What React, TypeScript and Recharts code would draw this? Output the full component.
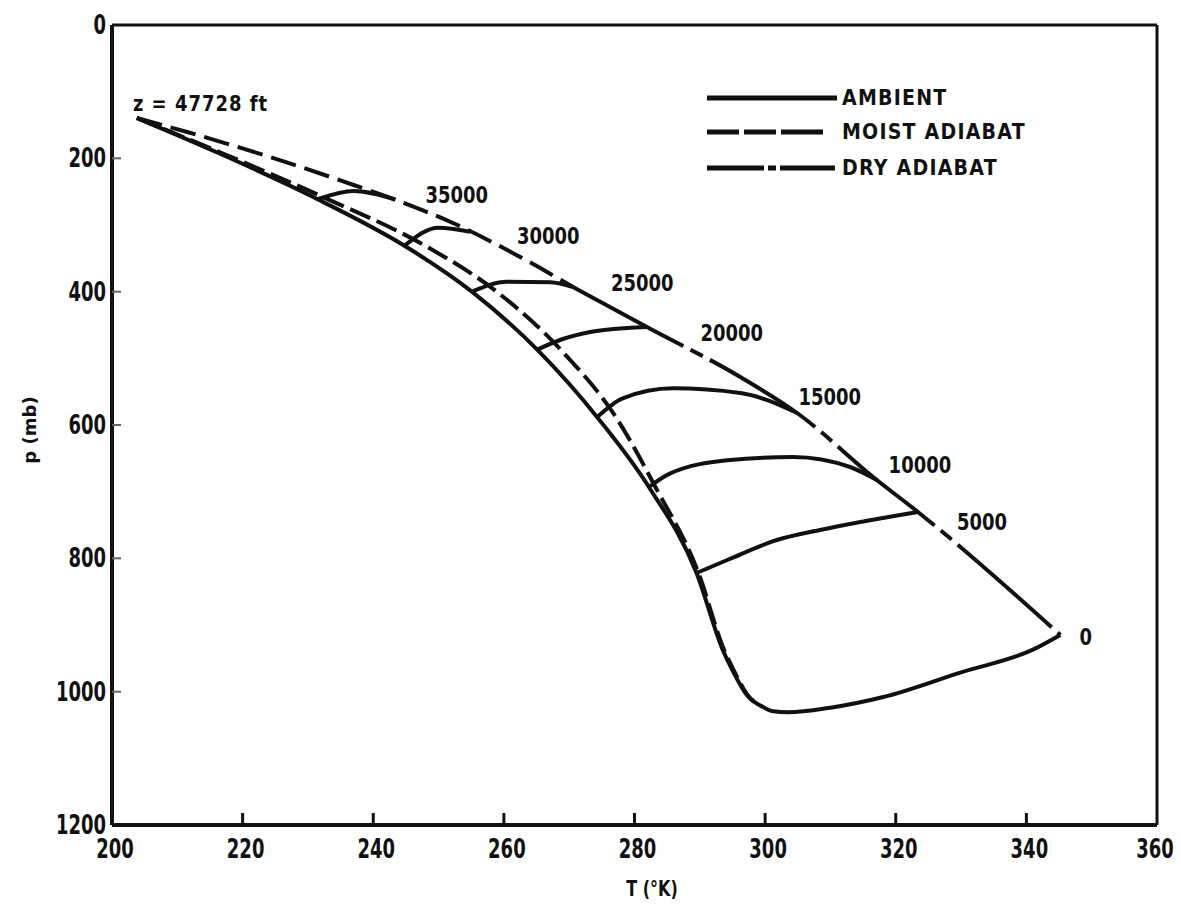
import { ComposedChart, Line, Scatter, XAxis, YAxis, ReferenceLine, Legend } from 'recharts'

// axis ticks
const T_TICKS = [200, 220, 240, 260, 280, 300, 320, 340, 360]
const P_TICKS = [0, 200, 400, 600, 800, 1000, 1200]

// profiles, T in K, p in mb
const ambient = [
  { T: 203.8, p: 139.5 }, { T: 216.3, p: 192 }, { T: 230.8, p: 258 }, { T: 245.1, p: 333 },
  { T: 255.1, p: 400 }, { T: 265.1, p: 487 }, { T: 274.6, p: 592 }, { T: 282.2, p: 693 },
  { T: 289.5, p: 822 }, { T: 293.5, p: 937 }, { T: 295.0, p: 968 }, { T: 297.2, p: 1005 },
  { T: 299.7, p: 1023 },
]
const moistAdiabat = [
  { T: 203.8, p: 139.5 }, { T: 216.8, p: 192 }, { T: 232.3, p: 258 }, { T: 248.3, p: 333 },
  { T: 258.9, p: 400 }, { T: 268.7, p: 487 }, { T: 277.4, p: 592 }, { T: 283.2, p: 693 },
  { T: 289.8, p: 822 }, { T: 293.7, p: 937 }, { T: 295.2, p: 968 }, { T: 297.3, p: 1005 },
  { T: 299.7, p: 1023 },
]
const dryAdiabatUpper = [
  { T: 203.8, p: 139.5 }, { T: 211.5, p: 160.5 }, { T: 224.2, p: 198 }, { T: 237.0, p: 240 },
  { T: 243.6, p: 263 }, { T: 252.2, p: 297 }, { T: 262.5, p: 348 }, { T: 270.6, p: 393 },
]
const dryAdiabatLower = [
  { T: 270.6, p: 393 }, { T: 281.9, p: 453 }, { T: 296.2, p: 528 }, { T: 304.9, p: 582 },
  { T: 317.1, p: 682.5 }, { T: 323.4, p: 730.5 }, { T: 345.2, p: 915 },
]

// constant-altitude lines from the ambient curve to the dry adiabat
const z35000 = [{ T: 231.6, p: 261 }, { T: 237.0, p: 249 }, { T: 243.4, p: 262 }]
const z30000 = [{ T: 244.8, p: 331 }, { T: 250.0, p: 304 }, { T: 254.8, p: 310 }]
const z25000 = [{ T: 255.1, p: 400 }, { T: 260.5, p: 385 }, { T: 267.1, p: 386 }, { T: 270.6, p: 393 }]
const z20000 = [{ T: 265.1, p: 487 }, { T: 268.6, p: 472.5 }, { T: 273.2, p: 460.5 }, { T: 278.9, p: 454.5 }, { T: 281.9, p: 453 }]
const z15000 = [{ T: 274.3, p: 588 }, { T: 278.2, p: 560 }, { T: 285.9, p: 545 }, { T: 296.2, p: 552 }, { T: 304.9, p: 582 }]
const z10000 = [{ T: 282.2, p: 693 }, { T: 285.4, p: 673 }, { T: 294.2, p: 653 }, { T: 304.3, p: 648 }, { T: 313.0, p: 663 }, { T: 317.1, p: 682.5 }]
const z5000 = [{ T: 289.5, p: 822 }, { T: 294.2, p: 802.5 }, { T: 301.8, p: 772.5 }, { T: 308.4, p: 757.5 }, { T: 323.4, p: 730.5 }]
const z0 = [{ T: 299.7, p: 1023 }, { T: 301.2, p: 1029.5 }, { T: 303.5, p: 1031 }, { T: 310.0, p: 1024 }, { T: 318.1, p: 1008 }, { T: 330.0, p: 971 }, { T: 341.0, p: 937 }, { T: 345.2, p: 915 }]
const ISOPLETHS = [z35000, z30000, z25000, z20000, z15000, z10000, z5000, z0]

const heightLabels = [
  { T: 252.8, p: 255, text: '35000' }, { T: 266.8, p: 316.5, text: '30000' },
  { T: 281.2, p: 387, text: '25000' }, { T: 294.9, p: 462, text: '20000' },
  { T: 309.9, p: 558, text: '15000' }, { T: 323.7, p: 660, text: '10000' },
  { T: 333.2, p: 745.5, text: '5000' }, { T: 349.1, p: 918, text: '0' },
]
const topLabel = [{ T: 203.2, p: 118.5, text: 'z = 47728 ft' }]

const LEGEND_ITEMS = ['AMBIENT', 'MOIST ADIABAT', 'DRY ADIABAT']

const INK = '#111'
const FONT = '"DejaVu Sans", Arial, sans-serif'
const chartMargin = { top: 17, right: 24, bottom: 0, left: 0 }
const axisLineStyle = { stroke: INK, strokeWidth: 4 }
const legendWrap = { left: 682, top: 70, width: 420, height: 110 }

const XTick = (props: any) => {
  const { x, y, payload } = props
  const v = payload.value
  const inner = v > 200 && v < 360
  return (
    <g>
      {inner && <line x1={x} y1={y} x2={x} y2={y - 12} stroke={INK} strokeWidth={3} />}
      <text transform={`translate(${v === 360 ? x - 2 : x + 3},${y + 33}) scale(1,1.45)`} textAnchor="middle"
        fontFamily={FONT} fontWeight={700} fontSize={18} fill={INK}>{v}</text>
    </g>
  )
}

const YTick = (props: any) => {
  const { x, y, payload } = props
  const v = payload.value
  const inner = v > 0 && v < 1200
  return (
    <g>
      {inner && <line x1={x} y1={y} x2={x + 9} y2={y} stroke="#666" strokeWidth={2} />}
      <text transform={`translate(${x - 6},${y + 9}) scale(1,1.45)`} textAnchor="end"
        fontFamily={FONT} fontWeight={700} fontSize={18} fill={INK}>{v}</text>
    </g>
  )
}

const HeightLabel = (props: any) => {
  const { cx, cy, payload } = props
  return (
    <text transform={`translate(${cx},${cy + 8}) scale(1,1.25)`} textAnchor="middle"
      fontFamily={FONT} fontWeight={700} fontSize={18} fill={INK}>{payload.text}</text>
  )
}

const TopLabel = (props: any) => {
  const { cx, cy, payload } = props
  return (
    <text transform={`translate(${cx},${cy + 7}) scale(1,1.15)`} textAnchor="start"
      fontFamily={FONT} fontWeight={700} fontSize={18} letterSpacing={1} fill={INK}>{payload.text}</text>
  )
}

const legendDash = ['', '32 5 32 5 42', '57 4 8 4 55']
const legendEnd = [147, 133, 145]

const renderLegend = () => (
  <svg width={420} height={110}>
    {LEGEND_ITEMS.map((name, i) => {
      const y = [20, 54, 90][i]
      return (
        <g key={name}>
          <line x1={17} y1={y} x2={legendEnd[i]} y2={y} stroke={INK} strokeWidth={5}
            strokeDasharray={legendDash[i] || undefined} />
          <text transform={`translate(152,${y + 7}) scale(1,1.1)`} fontFamily={FONT} fontWeight={700}
            fontSize={19} letterSpacing={1.2} fill={INK}>{name}</text>
        </g>
      )
    })}
  </svg>
)

export default function App() {
  return (
    <div style={{ position: 'relative', width: 1173, height: 893, background: '#fff' }}>
      <style>{'.recharts-surface{overflow:visible}'}</style>
      <ComposedChart width={1173} height={893} margin={chartMargin}>
        <XAxis type="number" dataKey="T" domain={[200, 360]} ticks={T_TICKS} interval={0}
          axisLine={axisLineStyle} tickLine={false} tickSize={0} tickMargin={0}
          tick={<XTick />} height={76}
          label={{ content: () => (
            <text transform="translate(644,888) scale(1,1.35)" textAnchor="middle"
              fontFamily={FONT} fontWeight={700} fontSize={16} fill={INK}>T (°K)</text>
          ) }} />
        <YAxis type="number" dataKey="p" domain={[0, 1200]} ticks={P_TICKS} interval={0} reversed
          axisLine={axisLineStyle} tickLine={false} tickSize={0} tickMargin={0}
          tick={<YTick />} width={104}
          label={{ content: () => (
            <text transform="translate(28,422) rotate(-90)" textAnchor="middle"
              fontFamily={FONT} fontWeight={700} fontSize={18} fill={INK}>p (mb)</text>
          ) }} />
        <ReferenceLine y={0} stroke={INK} strokeWidth={3} />
        <ReferenceLine x={360} stroke={INK} strokeWidth={3} />
        <Legend layout="vertical" align="center" verticalAlign="middle"
          wrapperStyle={legendWrap} content={renderLegend} />

        <Line data={ambient} dataKey="p" type="monotone" stroke={INK} strokeWidth={4}
          dot={false} isAnimationActive={false} />
        <Line data={moistAdiabat} dataKey="p" type="monotone" stroke={INK} strokeWidth={4}
          strokeDasharray="22 7" dot={false} isAnimationActive={false} />
        <Line data={dryAdiabatUpper} dataKey="p" type="monotone" stroke={INK} strokeWidth={4}
          strokeDasharray="26 9" dot={false} isAnimationActive={false} />
        <Line data={dryAdiabatLower} dataKey="p" type="monotone" stroke={INK} strokeWidth={4}
          strokeDasharray="125 8 14 8" dot={false} isAnimationActive={false} />
        {ISOPLETHS.map((d, i) => (
          <Line key={i} data={d} dataKey="p" type="monotone" stroke={INK} strokeWidth={4}
            dot={false} isAnimationActive={false} />
        ))}
        <Scatter data={heightLabels} dataKey="p" shape={<HeightLabel />} isAnimationActive={false} />
        <Scatter data={topLabel} dataKey="p" shape={<TopLabel />} isAnimationActive={false} />
      </ComposedChart>
    </div>
  )
}
